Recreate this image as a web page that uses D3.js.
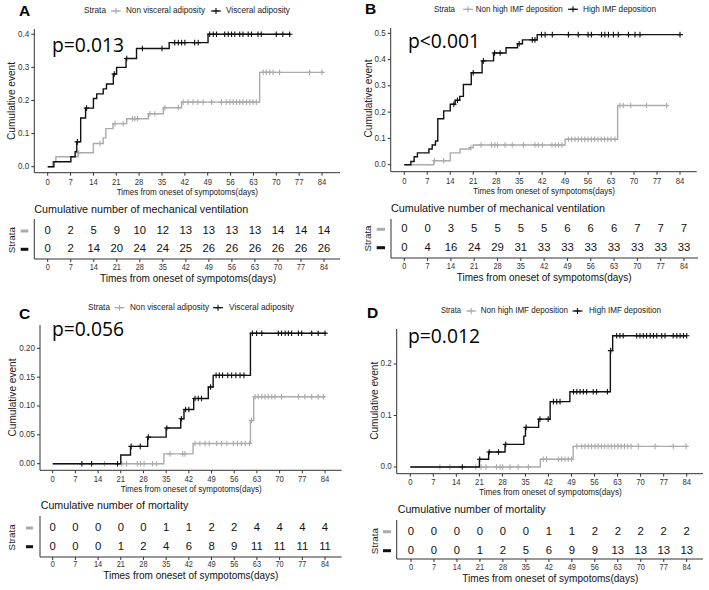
<!DOCTYPE html>
<html><head><meta charset="utf-8">
<script src="https://cdn.jsdelivr.net/npm/d3@7"></script>
<style>body{margin:0;background:#fff} svg{display:block}</style>
</head><body><svg id="c" width="709" height="590"></svg>
<script>
const days = [0,7,14,21,28,35,42,49,56,63,70,77,84];
const GRAY = "#ababab", BLACK = "#111111";

// ---------- Panel A ----------
const aNonSteps = [[1.5,0.015],[2.5,0.03],[9.3,0.042],[14,0.07],[17,0.087],[17.8,0.115],[20,0.13],[24.2,0.145],[30.8,0.16],[35.4,0.178],[41,0.195],[64.9,0.285]];
const aNonCens = [9.5,16,20.6,23.1,26,26.7,27.5,31.3,32.8,35.9,40,41.5,43,44.5,46,47.6,50.2,53.2,54.7,55.8,56.8,57.8,58.8,59.8,60.9,61.9,62.9,63.9,66,67,68,69,71,80.2,84];
const aNonEnd = 84.3;
const aVisSteps = [[1.9,0.015],[7.1,0.03],[8.4,0.045],[8.9,0.075],[10.1,0.147],[11.6,0.177],[14,0.206],[15,0.22],[17,0.235],[18,0.25],[20.1,0.28],[21.1,0.3],[24,0.327],[27.2,0.357],[37.2,0.375],[49.1,0.4]];
const aVisCens = [9.1,11.9,20.4,24.2,29,35,38.9,40,41,42,45,46.1,49.6,50.7,51.7,54.2,55.3,56.3,57.3,58.8,59.8,61.4,62.4,64.4,65.4,70,72,74.1];
const aVisEnd = 74.4;
const aNonRisk = [0,2,5,9,10,12,13,13,13,13,14,14,14];
const aVisRisk = [0,2,14,20,24,24,25,26,26,26,26,26,26];
const aYTicks = [0,0.1,0.2,0.3,0.4];

// ---------- Panel B ----------
const bNonSteps = [[9,0.015],[14,0.045],[17,0.06],[20,0.065],[21,0.075],[49,0.097],[65,0.225]];
const bNonCens = [9.2,12,20.3,23.4,26.6,27.6,28.4,30.7,32.9,36.3,39.8,40.8,42.1,45,46,47,48,50,51,52,53,54,55,56,57,58,59,60,61,62,63,64.2,65.7,66.7,69,73.8,79.9];
const bNonEnd = 80.4;
const bHighSteps = [[2,0.012],[3,0.03],[4,0.045],[7.5,0.06],[8.5,0.075],[9.5,0.09],[10.2,0.175],[12,0.205],[14,0.23],[15.5,0.245],[16.9,0.26],[18,0.305],[20.4,0.35],[23.7,0.395],[27.2,0.425],[31,0.445],[34.5,0.46],[36,0.475],[40.5,0.495]];
const bHighCens = [15.1,16.2,21,24.1,27.5,29.2,35,39,39.8,41.8,42.9,45.1,50,53,56,57,60.1,61.1,62.2,63.7,65.2,68.3,70.3,71.8,84];
const bHighEnd = 84;
const bNonRisk = [0,0,3,5,5,5,5,6,6,6,7,7,7];
const bHighRisk = [0,4,16,24,29,31,33,33,33,33,33,33,33];
const bYTicks = [0,0.1,0.2,0.3,0.4,0.5];

// ---------- Panel C ----------
const cNonSteps = [[34.3,0.017],[43.3,0.035],[61,0.075],[62,0.116]];
const cNonCens = [16,21.3,22.8,26.1,27.1,28.2,30.8,32.1,36.2,40.1,40.8,43.9,45.4,47,48.3,50.6,52.1,53.7,55.7,57,58.2,59.4,60.7,61.3,62.4,63.4,64.5,65.5,66.5,67.6,68.6,70.6,75.8,77.8,79.9,81.9,83.5];
const cNonEnd = 84;
const cVisSteps = [[21,0.015],[24,0.03],[29.3,0.046],[35,0.062],[39.5,0.078],[40.5,0.094],[43.5,0.113],[48,0.133],[49.5,0.153],[61,0.226]];
const cVisCens = [9,12,20,24.2,27,29.5,35.2,39.7,41,42,43.9,44.9,45.9,48.7,50.4,51.4,52.4,54,55.2,56.5,57.8,59,61.6,62.9,64.5,69.6,70.6,71.7,72.7,73.7,75.8,76.8,79.9,81.9,84];
const cVisEnd = 84.5;
const cNonRisk = [0,0,0,0,0,1,1,2,2,4,4,4,4];
const cVisRisk = [0,0,0,1,2,4,6,8,9,11,11,11,11];
const cYTicks = [0,0.05,0.1,0.15,0.2];

// ---------- Panel D ----------
const dNonSteps = [[39.5,0.015],[49.5,0.04]];
const dNonCens = [9,12,19.9,21.5,23,26.2,27.3,28.1,30.3,32.8,35.9,40.4,41.4,45,46,47,48,49,50.6,52.1,53.1,54.1,55.1,56.1,57.1,58.1,59.1,60.1,61.1,62.1,63.1,64.1,65.1,66.1,67.1,69.3,74.4,79.9,83.8];
const dNonEnd = 84;
const dHighSteps = [[21,0.015],[23.8,0.029],[28.8,0.044],[34.5,0.06],[35,0.077],[39,0.093],[42.5,0.127],[48.5,0.146],[60.8,0.226],[61.5,0.255]];
const dHighCens = [15.8,21.1,24,26.8,29,35.2,39.4,41.9,43.5,44.5,45.5,49.6,50.6,51.6,52.6,53.6,55.6,56.6,59.9,60.9,62.7,63.7,64.7,68.8,69.8,70.8,71.8,72.9,73.9,74.9,76.4,77.4,79.9,81,82,83,84];
const dHighEnd = 84;
const dNonRisk = [0,0,0,0,0,0,1,1,2,2,2,2,2];
const dHighRisk = [0,0,0,1,2,5,6,9,9,13,13,13,13];
const dYTicks = [0,0.1,0.2];

const xTitle = "Times from oneset of sympotoms(days)";
const svg = d3.select("#c");
const SANS = "'Liberation Sans', Arial, sans-serif";

function txt(g, x, y, s, o = {}) {
  const t = g.append("text").attr("x", x).attr("y", y).text(s)
    .attr("font-family", o.family || SANS).attr("font-size", o.size || 9)
    .attr("fill", o.fill || "#000");
  if (o.anchor) t.attr("text-anchor", o.anchor);
  if (o.weight) t.attr("font-weight", o.weight);
  if (o.w) t.attr("textLength", o.w).attr("lengthAdjust", "spacingAndGlyphs");
  if (o.sq) { const n = t.node().getComputedTextLength(); t.attr("textLength", n * o.sq).attr("lengthAdjust", "spacingAndGlyphs"); }
  if (o.rot) t.attr("transform", `rotate(-90,${x},${y})`);
  if (o.base) t.attr("dominant-baseline", o.base);
  return t;
}
function plus(g, x, y, color, r = 3) {
  g.append("path").attr("d", `M${x - r},${y}H${x + r}M${x},${y - r}V${y + r}`)
    .attr("stroke", color).attr("stroke-width", 1.1).attr("fill", "none");
}
function valAt(steps, t) {
  let v = 0;
  for (const s of steps) if (s[0] <= t) v = s[1];
  return v;
}

function panel(o) {
  const g = svg.append("g");
  const x = d3.scaleLinear().domain([0, 84]).range(o.xr);
  const y = d3.scaleLinear().domain([0, o.yMax]).range(o.yr);
  txt(g, o.letter[1], o.letter[2], o.letter[0], {size: 15.5, weight: "bold"});
  const L = o.legend;
  txt(g, L.sx, L.y, "Strata", {size: 9.2, w: L.sw, base: "middle", fill: "#222"});
  [[L.g1, GRAY, L.t1x, L.t1w, o.names[0]], [L.g2, BLACK, L.t2x, L.t2w, o.names[1]]].forEach(([cx, col, tx, tw, nm]) => {
    g.append("line").attr("x1", cx - 5).attr("x2", cx + 5).attr("y1", L.y).attr("y2", L.y)
      .attr("stroke", col).attr("stroke-width", 1.2);
    plus(g, cx, L.y, col, 3);
    txt(g, tx, L.y, nm, {size: 9.2, w: tw, base: "middle", fill: "#222"});
  });
  g.append("line").attr("x1", o.axL).attr("x2", o.axL).attr("y1", o.axT).attr("y2", o.axB)
    .attr("stroke", "#333").attr("stroke-width", 1);
  g.append("line").attr("x1", o.axL).attr("x2", o.axR).attr("y1", o.axB).attr("y2", o.axB)
    .attr("stroke", "#333").attr("stroke-width", 1);
  o.yTicks.forEach(v => {
    g.append("line").attr("x1", o.axL - 3).attr("x2", o.axL).attr("y1", y(v)).attr("y2", y(v)).attr("stroke", "#333");
    txt(g, o.axL - 5, y(v), d3.format(o.yFmt)(v), {size: 9.2, anchor: "end", base: "middle", fill: "#333", sq: 0.88});
  });
  days.forEach(d => {
    g.append("line").attr("x1", x(d)).attr("x2", x(d)).attr("y1", o.axB).attr("y2", o.axB + 3).attr("stroke", "#333");
    txt(g, x(d), o.xTickB, d, {size: 9.4, anchor: "middle", fill: "#333", sq: 0.82});
  });
  txt(g, o.xt[0], o.xt[2], xTitle, {size: 8.4, w: o.xt[1] - o.xt[0], fill: "#222"});
  txt(g, o.yl[0], o.yl[1], "Cumulative event", {size: 10.8, anchor: "middle", rot: true, base: "middle", fill: "#222", w: 78});
  const line = d3.line().x(d => x(d[0])).y(d => y(d[1])).curve(d3.curveStepAfter);
  o.series.forEach(s => {
    const pts = [[0, 0], ...s.steps, [s.end, s.steps[s.steps.length - 1][1]]];
    g.append("path").attr("d", line(pts)).attr("fill", "none").attr("stroke", s.color).attr("stroke-width", 1.4);
    s.cens.forEach(t => plus(g, x(t), y(valAt(s.steps, t)), s.color, 2.8));
  });
  txt(g, o.p[1], o.p[2], o.p[0], {size: 19.5, family: "'Open Sans', 'Noto Sans', sans-serif", w: o.p[3]});
  const T = o.table;
  const tx = d3.scaleLinear().domain([0, 84]).range(T.xr);
  txt(g, T.title[1], T.title[2], T.title[0], {size: 11.5, w: T.title[3], fill: "#111"});
  g.append("line").attr("x1", T.axL).attr("x2", T.axL).attr("y1", T.axT).attr("y2", T.axB).attr("stroke", "#333");
  g.append("line").attr("x1", T.axL).attr("x2", T.axR).attr("y1", T.axB).attr("y2", T.axB).attr("stroke", "#333");
  [[T.r1, o.risk[0], GRAY], [T.r2, o.risk[1], BLACK]].forEach(([ry, arr, col]) => {
    g.append("line").attr("x1", T.sw[0]).attr("x2", T.sw[1]).attr("y1", ry).attr("y2", ry)
      .attr("stroke", col).attr("stroke-width", 3);
    arr.forEach((v, i) => txt(g, tx(days[i]), ry, v, {size: 11.3, anchor: "middle", base: "middle", fill: "#111"}));
  });
  txt(g, T.sx, (T.r1 + T.r2) / 2, "Strata", {size: 9.8, anchor: "middle", rot: true, base: "middle", fill: "#222"});
  days.forEach(d => {
    g.append("line").attr("x1", tx(d)).attr("x2", tx(d)).attr("y1", T.axB).attr("y2", T.axB + 3).attr("stroke", "#333");
    txt(g, tx(d), T.tickB, d, {size: 9, anchor: "middle", fill: "#333", sq: 0.82});
  });
  txt(g, T.xt[0], T.xt[2], xTitle, {size: 10.3, w: T.xt[1] - T.xt[0], fill: "#111"});
}

panel({
  letter: ["A", 19, 16], names: ["Non visceral adiposity", "Visceral adiposity"],
  legend: {y: 11, sx: 84, sw: 22, g1: 116, t1x: 126, t1w: 79, g2: 216, t2x: 226, t2w: 64},
  xr: [47.7, 322], yr: [166.7, 34.3], yMax: 0.4, yTicks: aYTicks, yFmt: ".1f",
  axL: 34.3, axT: 29, axB: 172.7, axR: 340, xTickB: 184.5, xt: [116.7, 258, 194.5], yl: [12, 101],
  series: [{steps: aNonSteps, cens: aNonCens, end: aNonEnd, color: GRAY}, {steps: aVisSteps, cens: aVisCens, end: aVisEnd, color: BLACK}],
  p: ["p=0.013", 52, 52, 72],
  risk: [aNonRisk, aVisRisk],
  table: {xr: [47.7, 324], title: ["Cumulative number of mechanical ventilation", 34.3, 213, 214],
    axL: 34.3, axT: 219, axB: 259, axR: 340, r1: 231, r2: 249.3, sw: [20.7, 28.3], sx: 12,
    tickB: 270, xt: [100, 276, 281.5]}
});
panel({
  letter: ["B", 365, 14], names: ["Non high IMF deposition", "High IMF deposition"],
  legend: {y: 9.3, sx: 434, sw: 21, g1: 468, t1x: 475.7, t1w: 87, g2: 573, t2x: 583, t2w: 73},
  xr: [404.3, 680], yr: [164.7, 33.3], yMax: 0.5, yTicks: bYTicks, yFmt: ".1f",
  axL: 390.7, axT: 28, axB: 171.7, axR: 696.7, xTickB: 184, xt: [473, 615, 194], yl: [368.7, 98.5],
  series: [{steps: bNonSteps, cens: bNonCens, end: bNonEnd, color: GRAY}, {steps: bHighSteps, cens: bHighCens, end: bHighEnd, color: BLACK}],
  p: ["p<0.001", 408, 48, 72],
  risk: [bNonRisk, bHighRisk],
  table: {xr: [404.3, 684], title: ["Cumulative number of mechanical ventilation", 391, 212, 214],
    axL: 391, axT: 219, axB: 258, axR: 698, r1: 229.3, r2: 247.7, sw: [376.7, 385], sx: 368,
    tickB: 269, xt: [456.7, 631.7, 280.8]}
});
panel({
  letter: ["C", 19, 319], names: ["Non visceral adiposity", "Visceral adiposity"],
  legend: {y: 307.7, sx: 88, sw: 22, g1: 119.5, t1x: 130, t1w: 79, g2: 218, t2x: 229, t2w: 65},
  xr: [52.7, 325], yr: [463.7, 348.3], yMax: 0.2, yTicks: cYTicks, yFmt: ".2f",
  axL: 40, axT: 325, axB: 470.3, axR: 341.7, xTickB: 482, xt: [120.7, 261.7, 491.5], yl: [13, 397.5],
  series: [{steps: cNonSteps, cens: cNonCens, end: cNonEnd, color: GRAY}, {steps: cVisSteps, cens: cVisCens, end: cVisEnd, color: BLACK}],
  p: ["p=0.056", 52, 336, 72],
  risk: [cNonRisk, cVisRisk],
  table: {xr: [52.7, 325], title: ["Cumulative number of mortality", 40.7, 509, 147.6],
    axL: 40, axT: 516, axB: 557, axR: 341.7, r1: 528, r2: 546.7, sw: [26, 33], sx: 12.7,
    tickB: 567, xt: [103.3, 278.3, 578.5]}
});
panel({
  letter: ["D", 367, 318], names: ["Non high IMF deposition", "High IMF deposition"],
  legend: {y: 311, sx: 441, sw: 20, g1: 471.2, t1x: 480.7, t1w: 87.3, g2: 577.5, t2x: 589, t2w: 72},
  xr: [410.3, 686.7], yr: [467, 364], yMax: 0.2, yTicks: dYTicks, yFmt: ".1f",
  axL: 396.7, axT: 329, axB: 473.7, axR: 703, xTickB: 485, xt: [479, 621.7, 494.5], yl: [374.7, 400.8],
  series: [{steps: dNonSteps, cens: dNonCens, end: dNonEnd, color: GRAY}, {steps: dHighSteps, cens: dHighCens, end: dHighEnd, color: BLACK}],
  p: ["p=0.012", 408, 343, 72],
  risk: [dNonRisk, dHighRisk],
  table: {xr: [411, 686.7], title: ["Cumulative number of mortality", 397.7, 513, 148],
    axL: 396.7, axT: 520, axB: 559, axR: 703, r1: 531.7, r2: 550.7, sw: [383, 391], sx: 375,
    tickB: 569.5, xt: [462.3, 638.3, 581.5]}
});
</script>
</body></html>
